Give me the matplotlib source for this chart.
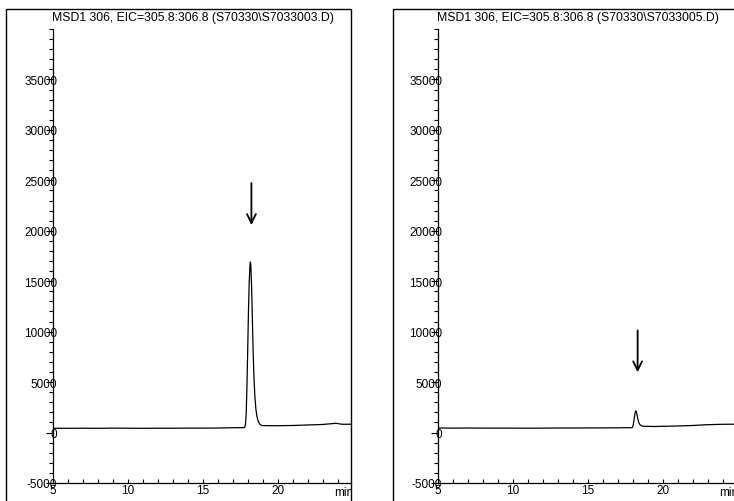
import matplotlib
matplotlib.use("Agg")
import matplotlib.pyplot as plt
from matplotlib.patches import Rectangle
from matplotlib.ticker import MultipleLocator, FixedLocator
from matplotlib.transforms import Bbox, TransformedBbox

plt.rcParams['font.family'] = ['Liberation Sans', 'DejaVu Sans']
plt.rcParams['axes.unicode_minus'] = False

W, H = 734, 502

titles = ["MSD1 306, EIC=305.8:306.8 (S70330\\S7033003.D)",
          "MSD1 306, EIC=305.8:306.8 (S70330\\S7033005.D)"]

# sample 3003 (big peak)
time_a = [5, 6, 7, 8, 9, 10, 11, 12, 13, 14, 15, 16, 17, 17.7, 17.8, 17.85, 17.9,
          17.95, 18.0, 18.05, 18.1, 18.15, 18.18, 18.21, 18.26, 18.31, 18.36, 18.42,
          18.48, 18.55, 18.62, 18.7, 18.8, 18.9, 19.0, 19.6, 20, 21, 22, 23, 23.9,
          24.3, 25]
resp_a = [430, 420, 430, 420, 440, 430, 420, 430, 430, 440, 440, 450, 480, 490, 520,
          800, 1800, 4500, 8000, 11800, 14800, 16500, 16900, 16600, 14600, 11500,
          8300, 5500, 3600, 2300, 1600, 1150, 850, 720, 690, 680, 680, 700, 750, 800,
          920, 820, 830]

# sample 3005 (small peak)
time_b = [5, 6, 7, 8, 9, 10, 11, 12, 13, 14, 15, 16, 17, 17.5, 17.95, 18.0, 18.05,
          18.1, 18.15, 18.2, 18.25, 18.3, 18.35, 18.42, 18.5, 18.6, 18.75, 19.5, 20,
          21, 22, 23, 24, 25]
resp_b = [450, 440, 450, 440, 440, 440, 430, 440, 450, 450, 460, 460, 470, 480,
          480, 560, 850, 1350, 1850, 2150, 2050, 1700, 1300, 950, 760, 660, 620, 600,
          620, 650, 700, 780, 820, 830]

arrow_x = [18.25, 18.33]
arrow_from = [25000, 10400]
arrow_to = [20300, 5700]

fig = plt.figure(figsize=(W / 100, H / 100), dpi=100)

def fx(px):
    return px / W

def fy(py):
    return 1 - py / H

panels = [
    dict(box_left=6, box_right=351, ax_left=53, t=time_a, r=resp_a, title_x=193),
    dict(box_left=393, box_right=760, ax_left=438, t=time_b, r=resp_b, title_x=578),
]

for i, p in enumerate(panels):
    # frame round each panel
    fig.patches.append(Rectangle((fx(p["box_left"]), fy(560)),
                                 fx(p["box_right"] - p["box_left"]), (560 - 10) / H,
                                 transform=fig.transFigure, fill=False,
                                 edgecolor="black", lw=1.0))
    fig.text(fx(p["title_x"]), fy(18), titles[i], ha="center", va="center", fontsize=8.8)

    ax = fig.add_axes([fx(p["ax_left"]), fy(484), fx(298), 454 / H])
    ax.plot(p["t"], p["r"], color="black", lw=0.9)
    ax.set_xlim(5, 24.9)
    ax.set_ylim(-5000, 40000)
    ax.patch.set_alpha(0)
    for s in ["top", "right"]:
        ax.spines[s].set_visible(False)
    ax.spines["left"].set_linewidth(0.9)
    ax.spines["bottom"].set_linewidth(0.9)

    ax.yaxis.set_major_locator(FixedLocator(range(-5000, 40000, 5000)))
    ax.yaxis.set_minor_locator(MultipleLocator(1000))
    ax.tick_params(axis="y", which="major", direction="out", length=5, width=0.8,
                   pad=-8, labelsize=8.5)
    ax.tick_params(axis="y", which="minor", direction="out", length=3, width=0.8)
    ax.xaxis.set_major_locator(FixedLocator([5, 10, 15, 20]))
    ax.xaxis.set_minor_locator(MultipleLocator(1))
    ax.tick_params(axis="x", which="both", direction="in", length=3, width=0.8,
                   pad=1, labelsize=8.5)

    ax.annotate("", xy=(arrow_x[i], arrow_to[i]), xytext=(arrow_x[i], arrow_from[i]),
                arrowprops=dict(arrowstyle="->", lw=1.3, color="black",
                                mutation_scale=16))

    unit = ax.text(23.75, -5300, "min", ha="left", va="top", fontsize=8.5)
    unit.set_clip_box(TransformedBbox(Bbox.from_extents(0, 0, fx(p["box_right"]), 1),
                                      fig.transFigure))
    unit.set_clip_on(True)

fig.savefig("out.png", dpi=100)
